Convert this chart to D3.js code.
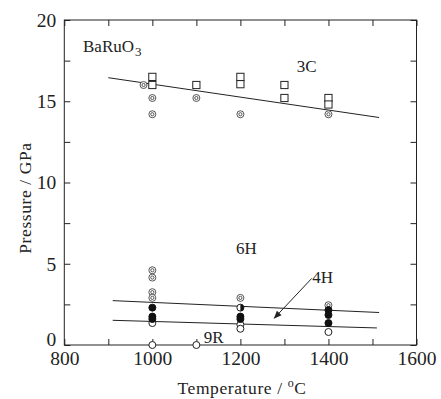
<!DOCTYPE html>
<html><head><meta charset="utf-8">
<script src="https://cdn.jsdelivr.net/npm/d3@7"></script>
<style>body{margin:0;background:#fff}svg{display:block}</style>
</head><body>
<script>
// ---- data ----
const xTicks = [800, 1000, 1200, 1400, 1600];
const yTicks = [0, 5, 10, 15, 20];
const squares3C = [[1000,16.5],[1000,16.0],[1100,16.0],[1200,16.5],[1200,16.05],[1300,16.0],[1300,15.2],[1400,15.2],[1400,14.8]];
const bullseye = [[980,16.0],[1000,15.2],[1000,14.2],[1100,15.2],[1200,14.2],[1400,14.2],[1000,4.6],[1000,4.15],[1000,3.25],[1000,2.9],[1200,2.9],[1400,2.45]];
const filled = [[1000,2.3],[1000,1.75],[1000,1.6],[1200,1.75],[1200,1.6],[1400,2.15],[1400,1.85],[1400,1.35]];
const halfFilled = [[1200,2.3]];
const openCircles = [[1000,1.35],[1200,1.25],[1200,1.0],[1400,0.8],[1000,0],[1100,0]];
const line3C = [[900,16.45],[1515,14.0]];
const line4HUpper = [[910,2.73],[1515,2.0]];
const line4HLower = [[910,1.52],[1510,1.05]];
const arrow4H = [[1362,4.1],[1277,1.65]];
const phaseLabels = [
  {t:"3C", x:1328, y:16.8},
  {t:"6H", x:1190, y:5.6},
  {t:"4H", x:1363, y:3.8},
  {t:"9R", x:1117, y:0.12}
];

const FONT = "'Liberation Serif', 'DejaVu Serif', serif";
const W = 441, H = 399;
const m = {l:64.3, r:W-416.5, t:20, b:H-345};
const svg = d3.select("body").append("svg").attr("width", W).attr("height", H)
  .attr("font-family", FONT);
const x = d3.scaleLinear().domain([800,1600]).range([m.l, W-m.r]);
const y = d3.scaleLinear().domain([0,20]).range([H-m.b, m.t]);

const tl = 6;
const minorX = d3.range(800, 1601, 100), minorY = d3.range(0, 20.01, 2.5);
svg.append("g").attr("transform",`translate(0,${y(0)})`)
  .call(d3.axisTop(x).tickValues(minorX).tickSize(tl).tickFormat(""));
svg.append("g").attr("transform",`translate(0,${y(20)})`)
  .call(d3.axisBottom(x).tickValues(minorX).tickSize(tl).tickFormat(""));
svg.append("g").attr("transform",`translate(${x(800)},0)`)
  .call(d3.axisRight(y).tickValues(minorY).tickSize(tl).tickFormat(""));
svg.append("g").attr("transform",`translate(${x(1600)},0)`)
  .call(d3.axisLeft(y).tickValues(minorY).tickSize(tl).tickFormat(""));
svg.selectAll(".domain").remove();
svg.selectAll(".tick line").attr("stroke","#222");
svg.append("rect").attr("x",x(800)).attr("y",y(20)).attr("width",x(1600)-x(800)).attr("height",y(0)-y(20))
  .attr("fill","none").attr("stroke","#222").attr("stroke-width",1);

// tick labels
const xl = svg.append("g").attr("transform",`translate(0,${y(0)})`)
  .call(d3.axisBottom(x).tickValues(xTicks).tickSize(0).tickPadding(6).tickFormat(d3.format("d")));
xl.attr("font-family", FONT).attr("font-size", 19.5);
xl.select(".domain").remove();
xl.selectAll("text").attr("font-family", FONT).attr("fill","#222");
const yl = svg.append("g").attr("transform",`translate(${x(800)},0)`)
  .call(d3.axisLeft(y).tickValues(yTicks).tickSize(0).tickPadding(8).tickFormat(d3.format("d")));
yl.attr("font-family", FONT).attr("font-size", 19.5);
yl.select(".domain").remove();
yl.selectAll("text").attr("font-family", FONT).attr("fill","#222")
  .attr("dy", d => d === 0 ? "0.05em" : "0.32em");

// axis titles
svg.append("text").attr("x", 242).attr("y", 394).attr("text-anchor","middle").attr("font-size",17.5)
  .attr("letter-spacing", 0.6).attr("fill","#222")
  .html('Temperature / <tspan dy="-7" font-size="12">o</tspan><tspan dy="7">C</tspan>');
svg.append("text").attr("transform","translate(31,198) rotate(-90)").attr("text-anchor","middle").attr("font-size",17.5)
  .attr("letter-spacing", 0.6).attr("fill","#222")
  .text("Pressure / GPa");

// lines
const line = d3.line().x(d=>x(d[0])).y(d=>y(d[1]));
[line3C, line4HUpper, line4HLower].forEach(L => svg.append("path").attr("d", line(L)).attr("fill","none").attr("stroke","#222").attr("stroke-width",1));
svg.append("defs").append("marker").attr("id","ah").attr("viewBox","0 0 10 10").attr("refX",9).attr("refY",5)
  .attr("markerWidth",8).attr("markerHeight",8).attr("markerUnits","userSpaceOnUse").attr("orient","auto")
  .append("path").attr("d","M0,1 L10,5 L0,9 Z").attr("fill","#222");
svg.append("path").attr("d", line(arrow4H)).attr("stroke","#222").attr("stroke-width",1).attr("fill","none").attr("marker-end","url(#ah)");

// markers
const R = 3.5;
svg.append("g").selectAll("rect").data(squares3C).join("rect")
  .attr("x", d=>x(d[0])-3.6).attr("y", d=>y(d[1])-3.6).attr("width",7.2).attr("height",7.2)
  .attr("fill","#fff").attr("stroke","#222").attr("stroke-width",1);
const be = svg.append("g").selectAll("g").data(bullseye).join("g").attr("transform", d=>`translate(${x(d[0])},${y(d[1])})`);
be.append("circle").attr("r",R).attr("fill","#fff").attr("stroke","#444").attr("stroke-width",0.9);
be.append("circle").attr("r",1.6).attr("fill","none").attr("stroke","#444").attr("stroke-width",0.9);
svg.append("g").selectAll("circle").data(openCircles).join("circle")
  .attr("cx", d=>x(d[0])).attr("cy", d=>y(d[1])).attr("r",R).attr("fill","#fff").attr("stroke","#222").attr("stroke-width",1);
svg.append("g").selectAll("circle").data(filled).join("circle")
  .attr("cx", d=>x(d[0])).attr("cy", d=>y(d[1])).attr("r",R).attr("fill","#111").attr("stroke","#111").attr("stroke-width",1);
const hf = svg.append("g").selectAll("g").data(halfFilled).join("g").attr("transform", d=>`translate(${x(d[0])},${y(d[1])})`);
hf.append("circle").attr("r",R).attr("fill","#fff").attr("stroke","#222").attr("stroke-width",1);
hf.append("path").attr("d", d3.arc()({innerRadius:0, outerRadius:R, startAngle:0, endAngle:Math.PI})).attr("fill","#111");

// labels
svg.append("text").attr("x", 83).attr("y", 52).attr("font-size",17).attr("fill","#222")
  .html('BaRuO<tspan dx="1" dy="4" font-size="13">3</tspan>');
svg.append("g").selectAll("text").data(phaseLabels).join("text")
  .attr("x", d=>x(d.x)).attr("y", d=>y(d.y)).attr("font-size",17).attr("fill","#222").text(d=>d.t);
</script>
</body></html>
